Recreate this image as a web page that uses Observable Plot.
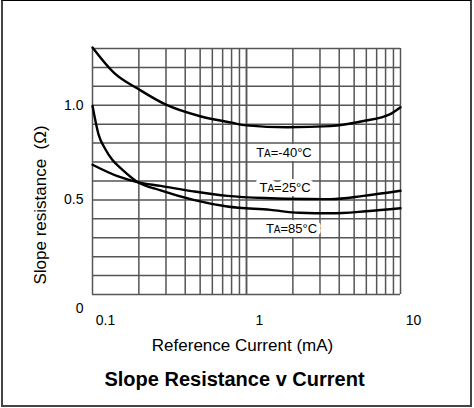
<!DOCTYPE html>
<html><head><meta charset="utf-8">
<script src="https://cdn.jsdelivr.net/npm/d3@7"></script>
<script src="https://cdn.jsdelivr.net/npm/@observablehq/plot@0.6"></script>
<style>
html,body{margin:0;padding:0;background:#fff;}
#wrap{position:relative;width:474px;height:408px;overflow:hidden;}
#border{position:absolute;left:1px;top:0;width:471px;height:407px;box-sizing:border-box;border:2px solid #444;border-top:1px solid #000;pointer-events:none;}
svg{font-family:"Liberation Sans",Arial,sans-serif;}
</style></head>
<body><div id="wrap"><div id="border"></div></div>
<script>
// Data
const xTicks = [0.1, 1, 10];
const xTickLabels = ["0.1", "1", "10"];
const yTicks = [0, 0.5, 1.0];
const yTickLabels = ["0", "0.5", "1.0"];

const m40X = [0.1, 0.1375, 0.202, 0.3, 0.5, 0.8, 1.0, 1.85, 3.5, 5.75, 8.5, 10];
const m40Y = [1.305, 1.172, 1.082, 1.003, 0.942, 0.908, 0.894, 0.884, 0.89, 0.917, 0.952, 0.99];

const p25X = [0.1, 0.147, 0.195, 0.277, 0.452, 0.75, 1.43, 2.5, 3.51, 5.75, 10];
const p25Y = [0.686, 0.624, 0.594, 0.574, 0.545, 0.521, 0.509, 0.505, 0.504, 0.521, 0.548];

const p85X = [0.1, 0.1094, 0.1215, 0.134, 0.156, 0.195, 0.277, 0.452, 0.75, 1.43, 2.2, 3.51, 6, 10];
const p85Y = [0.997, 0.846, 0.766, 0.713, 0.66, 0.596, 0.55, 0.5, 0.465, 0.447, 0.432, 0.429, 0.44, 0.456];

const seriesNames = ["-40°C", "25°C", "85°C"];
const labelX = [1.75, 1.78, 1.96];
const labelY = [0.75, 0.564, 0.346];

const xTitle = "Reference Current (mA)";
const yTitle = "Slope resistance  (Ω)";
const chartTitle = "Slope Resistance v Current";

// grid values (log grid 0.1..10, linear 0..1.3 step 0.1)
const xGrid = [];
for (const dec of [0.1, 1]) for (let k = 1; k <= 10; k++) xGrid.push(+(dec * k).toFixed(3));
const yGrid = d3.range(0, 14).map(i => +(i * 0.1).toFixed(2));

const toRows = (xs, ys) => xs.map((x, i) => ({x, y: ys[i]}));
const series = [toRows(m40X, m40Y), toRows(p25X, p25Y), toRows(p85X, p85Y)];
const labels = seriesNames.map((n, i) => ({n, x: labelX[i], y: labelY[i]}));
const yTickRows = yTicks.map((v, i) => ({v, t: yTickLabels[i]}));

const plot = Plot.plot({
  width: 474, height: 408,
  marginLeft: 92, marginRight: 74, marginTop: 48, marginBottom: 114,
  x: {type: "log", domain: [0.1, 10], axis: null},
  y: {domain: [0, 1.3], axis: null},
  style: {fontFamily: "'Liberation Sans', Arial, sans-serif", color: "#000", background: "#fff"},
  marks: [
    Plot.ruleX(xGrid, {stroke: "#555", strokeWidth: 1.5}),
    Plot.ruleY(yGrid, {stroke: "#555", strokeWidth: 1.5}),
    ...series.map(s => Plot.line(s, {x: "x", y: "y", stroke: "#000", strokeWidth: 2.4, curve: "monotone-x"})),
    Plot.text(labels, {x: "x", y: "y", text: d => "TA=" + d.n, fontSize: 13, fill: "#fff",
      stroke: "#fff", strokeWidth: 8, className: "tlabel"}),
    Plot.text(labels, {x: "x", y: "y", text: d => "TA=" + d.n, fontSize: 13, fill: "#000", className: "tlabel"}),
    Plot.text(xTicks, {x: d => d, y: 0, text: (d, i) => xTickLabels[i], dx: 13, dy: 26, fontSize: 14, fill: "#000"}),
    Plot.text(yTickRows, {x: 0.1, y: "v", text: "t", textAnchor: "end", dx: -9, fontSize: 14, fill: "#000", className: "ytick"}),
    Plot.text([xTitle], {frameAnchor: "bottom", text: d => d, dx: -4, dy: 56, fontSize: 17, fill: "#000"}),
    Plot.text([chartTitle], {frameAnchor: "bottom", text: d => d, dx: -12, dy: 91, fontSize: 20, fontWeight: "bold", fill: "#000"}),
    Plot.text([yTitle], {x: 0.1, y: 0.473, text: d => d, rotate: -90, dx: -52, fontSize: 17, fill: "#000"})
  ]
});

// shift the "0" tick label down like the reference, and subscript-style small "A"
d3.select(plot).selectAll(".ytick text").each(function() {
  const t = d3.select(this);
  if (t.text() === "0") t.attr("transform", (t.attr("transform") || "") + " translate(0,14)");
});
d3.select(plot).selectAll(".tlabel text").each(function() {
  const el = d3.select(this);
  const s = el.text();
  const rest = s.slice(2);
  el.text(null);
  el.append("tspan").text("T");
  el.append("tspan").attr("font-size", 10).text("A");
  el.append("tspan").text(rest);
});
document.getElementById("wrap").prepend(plot);
</script>
</body></html>
